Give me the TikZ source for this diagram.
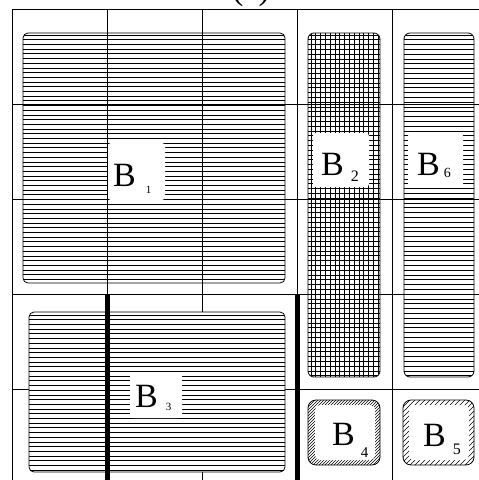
\documentclass[tikz,border=0pt]{standalone}
\usepackage{fontspec}
\setmainfont{Liberation Serif}
% block label: gap, drop, size, index
\newcommand\blab[4]{{\fontsize{34}{34}\selectfont B}\hspace{#1pt}\raisebox{-#2pt}{\fontsize{#3}{#3}\selectfont #4}}

\begin{document}
\begin{tikzpicture}[x=1pt,y=-1pt,line join=round,
  blk/.style={draw=black,line width=0.8pt,rounded corners=5pt},
  hatch/.style={line width=0.7pt,color=black},
  lbl/.style={anchor=base west,inner sep=0pt}]
\useasboundingbox (0,0) rectangle (479,480);
\node[anchor=base] (cap) at (251,-1) {\fontsize{34}{34}\selectfont (a)};
% grid
\foreach \x in {12,107,202,297,392}
\draw[line width=0.8pt] (\x,9.5) -- (\x,480);
\foreach \y in {9.5,104,199,294,389}
\draw[line width=0.8pt] (12,\y) -- (479,\y);
% B1
\begin{scope}
\clip[rounded corners=5pt] (23,33) rectangle (285,283);
\foreach \y in {35,39.7,...,283} \draw[hatch] (23,\y) -- (285,\y);
\end{scope}
\draw[blk] (23,33) rectangle (285,283);
% B2
\begin{scope}
\clip[rounded corners=6pt] (308,33) rectangle (380,377);
\foreach \y in {35,39.8,...,377} \draw[hatch] (308,\y) -- (380,\y);
\foreach \x in {311,315.8,...,380} \draw[hatch] (\x,33) -- (\x,377);
\end{scope}
\draw[blk,rounded corners=6pt] (308,33) rectangle (380,377);
% B6
\begin{scope}
\clip[rounded corners=6pt] (404,33) rectangle (474,377);
\foreach \y in {35,39.8,...,377} \draw[hatch] (404,\y) -- (474,\y);
\end{scope}
\draw[blk,rounded corners=6pt] (404,33) rectangle (474,377);
% B3
\fill[white,rounded corners=5pt] (29,312) rectangle (285,472);
\begin{scope}
\clip[rounded corners=5pt] (29,312) rectangle (285,472);
\foreach \y in {315,319.7,...,472} \draw[hatch] (29,\y) -- (285,\y);
\end{scope}
\draw[blk] (29,312) rectangle (285,472);
% cuts
\draw[line width=5pt] (107,294) -- (107,480);
\draw[line width=5pt] (297,294) -- (297,480);
% B4
\fill[white,rounded corners=8pt] (308,400) rectangle (380,465);
\begin{scope}
\clip[rounded corners=8pt] (308,400) rectangle (380,465);
\foreach \x in {230,233,...,380} \draw[line width=0.6pt] (\x,470) -- ++(80,-80);
\end{scope}
\fill[white,rounded corners=5pt] (315,405) rectangle (375,460);
\draw[blk,rounded corners=8pt] (308,400) rectangle (380,465);
% B5
\fill[white,rounded corners=8pt] (403,400) rectangle (474,465);
\begin{scope}
\clip[rounded corners=8pt] (403,400) rectangle (474,465);
\foreach \x in {325,330,...,475} \draw[line width=0.6pt] (\x,470) -- ++(80,-80);
\end{scope}
\fill[white,rounded corners=5pt] (409,405) rectangle (469,460);
\draw[blk,rounded corners=8pt] (403,400) rectangle (474,465);
% labels
\fill[white,rounded corners=3pt] (108,143) rectangle (165,200);
\node[lbl] (b1) at (113,186) {\blab{10}{7}{11}{1}};
\fill[white,rounded corners=3pt] (313,133) rectangle (369,187);
\node[lbl] (b2) at (321,175) {\blab{7}{6}{16}{2}};
\fill[white,rounded corners=3pt] (130,372) rectangle (182,418);
\node[lbl] (b3) at (135,407) {\blab{8}{3}{11}{3}};
\node[lbl] (b4) at (332,445) {\blab{6}{12}{15}{4}};
\node[lbl] (b5) at (423,446) {\blab{7}{8}{16}{5}};
\fill[white,rounded corners=3pt] (408,133) rectangle (463,187);
\node[lbl] (b6) at (417,175) {\blab{4}{2}{14}{6}};
\end{tikzpicture}
\end{document}
